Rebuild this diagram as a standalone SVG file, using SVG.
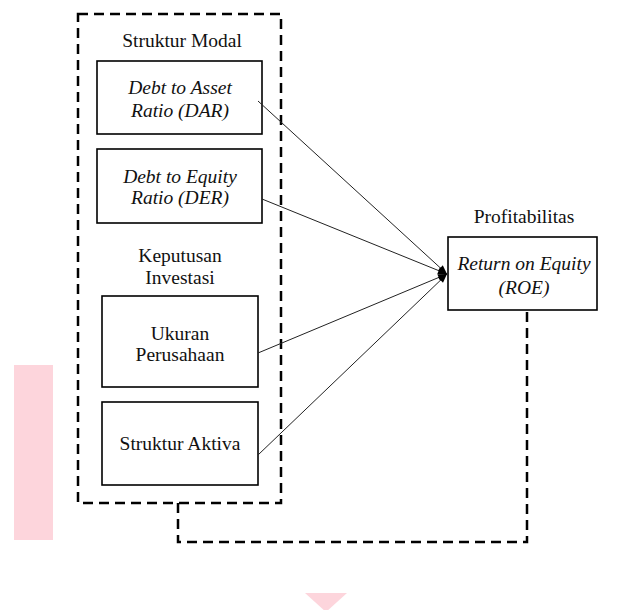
<svg xmlns="http://www.w3.org/2000/svg" width="626" height="610" viewBox="0 0 626 610">
<style>
.box{fill:#fff;stroke:#000;stroke-width:1.6}
.dash{fill:none;stroke:#000;stroke-width:2.5;stroke-dasharray:10 6}
.t{font-family:"Liberation Serif","Times New Roman",serif;font-size:19.5px;fill:#111;text-anchor:middle}
.i{font-style:italic}
.ln{stroke:#222;stroke-width:1;fill:none;marker-end:url(#ah)}
</style>
<defs>
<marker id="ah" viewBox="0 0 10 10" refX="10" refY="5" markerWidth="10" markerHeight="9" markerUnits="userSpaceOnUse" orient="auto">
<path d="M0,1 L10,5 L0,9 Z" fill="#000"/>
</marker>
</defs>
<rect x="14" y="365" width="39" height="175" fill="#fdd5dc"/>
<polygon points="305,593 347,593 326,612" fill="#fdd5dc"/>
<g id="group-frame">
<rect class="dash" x="78" y="14" width="203" height="489"/>
<text class="t" x="182" y="47">Struktur Modal</text>
<text class="t" x="180" y="262">Keputusan</text>
<text class="t" x="180" y="284">Investasi</text>
</g>
<g id="dar"><rect class="box" x="97" y="61" width="165" height="73"/>
<text class="t i" x="180" y="94">Debt to Asset</text>
<text class="t i" x="180" y="117">Ratio (DAR)</text></g>
<g id="der"><rect class="box" x="97" y="149" width="165" height="74"/>
<text class="t i" x="180" y="183">Debt to Equity</text>
<text class="t i" x="180" y="204">Ratio (DER)</text></g>
<g id="ukuran"><rect class="box" x="102" y="296" width="156" height="91"/>
<text class="t" x="180" y="340">Ukuran</text>
<text class="t" x="180" y="361">Perusahaan</text></g>
<g id="aktiva"><rect class="box" x="102" y="402" width="156" height="83"/>
<text class="t" x="180" y="450">Struktur Aktiva</text></g>
<g id="roe">
<text class="t" x="524" y="223">Profitabilitas</text>
<rect class="box" x="448" y="237" width="149" height="73"/>
<text class="t i" x="524" y="270">Return on Equity</text>
<text class="t i" x="524" y="294">(ROE)</text></g>
<g id="connectors">
<line class="ln" x1="258" y1="101" x2="447" y2="274"/>
<line class="ln" x1="262" y1="199" x2="447" y2="274"/>
<line class="ln" x1="258" y1="353" x2="447" y2="274"/>
<line class="ln" x1="258" y1="455" x2="447" y2="274"/>
<polyline class="dash" points="178,503 178,542 527,542 527,311"/>
</g>
</svg>
